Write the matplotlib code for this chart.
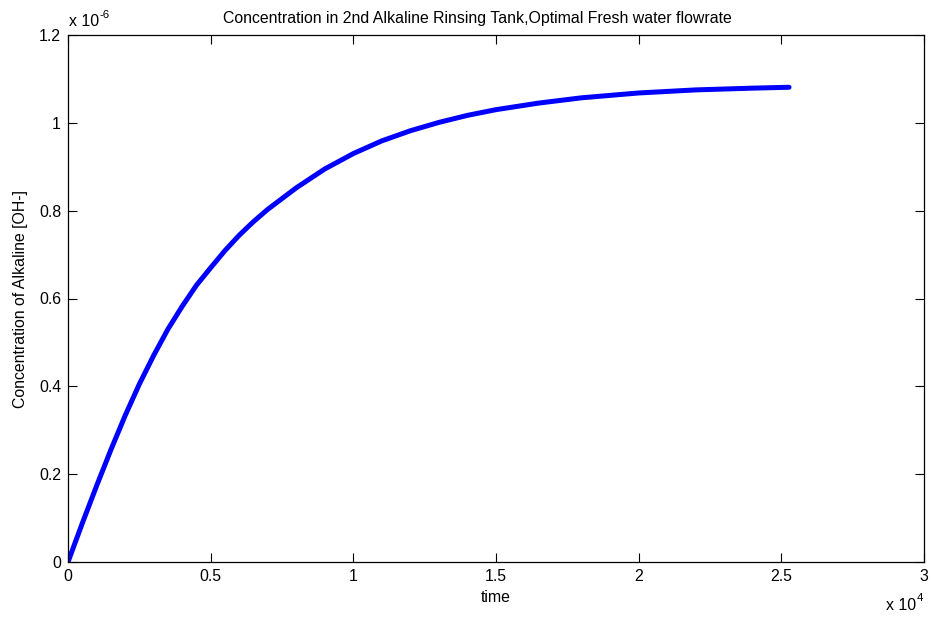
import matplotlib
matplotlib.use("Agg")
import matplotlib.pyplot as plt
from matplotlib.ticker import FuncFormatter

# time [s] and OH- concentration [mol/L] in the 2nd alkaline rinsing tank
time = [0, 500, 1000, 1500, 2000, 2500, 3000, 3500, 4000, 4500, 5000,
        5500, 6000, 6500, 7000, 8000, 9000, 10000, 11000, 12000, 13000,
        14000, 15000, 16500, 18000, 20000, 22000, 24000, 25270]
conc = [0, 0.088, 0.173, 0.255, 0.333, 0.405, 0.470, 0.530, 0.582, 0.630,
        0.670, 0.709, 0.744, 0.775, 0.803, 0.852, 0.895, 0.930, 0.959,
        0.982, 1.001, 1.017, 1.030, 1.045, 1.057, 1.068, 1.075, 1.079, 1.081]
conc = [c * 1e-6 for c in conc]

x_ticks = [0, 5000, 10000, 15000, 20000, 25000, 30000]
y_ticks = [0, 0.2e-6, 0.4e-6, 0.6e-6, 0.8e-6, 1.0e-6, 1.2e-6]

plt.rcParams["font.family"] = ["Liberation Sans", "DejaVu Sans"]
fs = 11.4

fig = plt.figure(figsize=(9.32, 6.17), dpi=100)
ax = fig.add_axes([68 / 932, 1 - 562 / 617, (924 - 68) / 932, (562 - 35) / 617])

ax.plot(time, conc, color="blue", lw=3.6, solid_capstyle="round",
        solid_joinstyle="round")

ax.set_xlim(0, 30000)
ax.set_ylim(0, 1.2e-6)
ax.set_xticks(x_ticks)
ax.set_yticks(y_ticks)
ax.xaxis.set_major_formatter(FuncFormatter(lambda v, p: "%g" % round(v / 1e4, 3)))
ax.yaxis.set_major_formatter(FuncFormatter(lambda v, p: "%g" % round(v / 1e-6, 3)))
ax.tick_params(direction="in", length=6.5, width=0.8, top=True, right=True,
               labelsize=fs, pad=5)
for s in ax.spines.values():
    s.set_linewidth(0.9)

# exponent labels, MATLAB style ("x 10" plus a small raised power)
ax.annotate("x 10", (0.0, 1.0), xycoords="axes fraction", xytext=(1, 4),
            textcoords="offset points", fontsize=fs, ha="left", va="bottom")
ax.annotate("-6", (0.0, 1.0), xycoords="axes fraction", xytext=(22.5, 11),
            textcoords="offset points", fontsize=fs * 0.72, ha="left", va="bottom")
ax.annotate("x 10", (1.0, 0.0), xycoords="axes fraction", xytext=(-6, -26),
            textcoords="offset points", fontsize=fs, ha="right", va="top")
ax.annotate("4", (1.0, 0.0), xycoords="axes fraction", xytext=(-1, -22),
            textcoords="offset points", fontsize=fs * 0.72, ha="right", va="top")

title = ax.set_title("Concentration in 2nd Alkaline Rinsing Tank,Optimal Fresh water flowrate",
                     fontsize=fs, pad=9)
title.set_x((477 - 68) / 856)
ax.set_xlabel("time", fontsize=fs, labelpad=4)
ax.set_ylabel("Concentration of Alkaline [OH-]", fontsize=fs, labelpad=8)

fig.savefig("out.png", dpi=100)
